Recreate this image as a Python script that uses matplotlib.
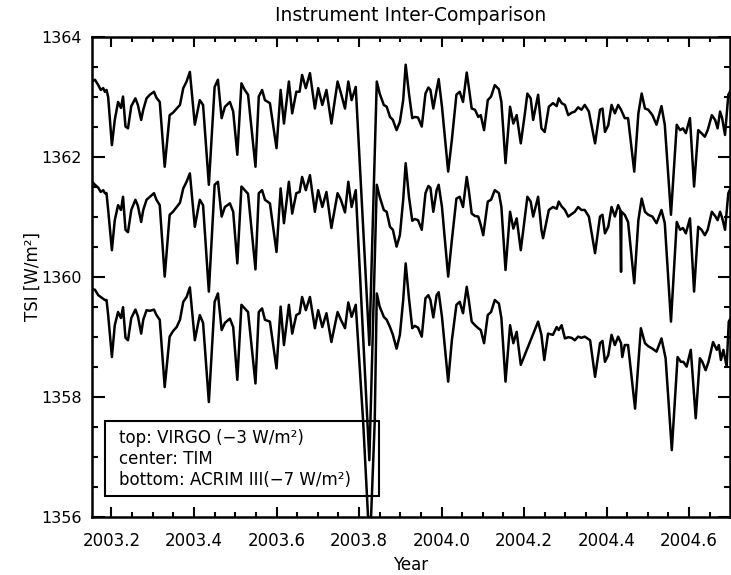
import numpy as np
import matplotlib.pyplot as plt
from matplotlib.patches import Rectangle
from matplotlib.ticker import MultipleLocator, FormatStrFormatter

# VIRGO (décalé de -3 W/m2)
virgo_annee = [
    2003.153, 2003.160, 2003.168, 2003.174, 2003.180, 2003.184, 2003.188, 2003.192, 2003.201, 2003.208,
    2003.216, 2003.223, 2003.228, 2003.234, 2003.240, 2003.248, 2003.258, 2003.264, 2003.272, 2003.277,
    2003.285, 2003.293, 2003.303, 2003.309, 2003.317, 2003.329, 2003.341, 2003.349, 2003.358, 2003.366,
    2003.374, 2003.382, 2003.390, 2003.402, 2003.414, 2003.422, 2003.436, 2003.450, 2003.458, 2003.467,
    2003.475, 2003.487, 2003.495, 2003.505, 2003.515, 2003.523, 2003.531, 2003.549, 2003.557, 2003.565,
    2003.572, 2003.584, 2003.600, 2003.610, 2003.618, 2003.630, 2003.638, 2003.648, 2003.656, 2003.662,
    2003.671, 2003.681, 2003.693, 2003.701, 2003.711, 2003.721, 2003.733, 2003.748, 2003.756, 2003.766,
    2003.774, 2003.782, 2003.792, 2003.825, 2003.843, 2003.850, 2003.860, 2003.867, 2003.875, 2003.882,
    2003.891, 2003.899, 2003.907, 2003.913, 2003.921, 2003.929, 2003.935, 2003.943, 2003.952, 2003.961,
    2003.968, 2003.973, 2003.980, 2003.988, 2003.993, 2004.001, 2004.016, 2004.025, 2004.036, 2004.044,
    2004.052, 2004.061, 2004.066, 2004.073, 2004.081, 2004.089, 2004.095, 2004.103, 2004.112, 2004.120,
    2004.129, 2004.139, 2004.145, 2004.155, 2004.166, 2004.174, 2004.182, 2004.192, 2004.202, 2004.208,
    2004.216, 2004.222, 2004.234, 2004.242, 2004.250, 2004.260, 2004.270, 2004.279, 2004.284, 2004.291,
    2004.299, 2004.307, 2004.315, 2004.323, 2004.331, 2004.339, 2004.347, 2004.357, 2004.372, 2004.384,
    2004.390, 2004.396, 2004.404, 2004.412, 2004.420, 2004.428, 2004.435, 2004.444, 2004.452, 2004.467,
    2004.477, 2004.485, 2004.493, 2004.501, 2004.511, 2004.521, 2004.533, 2004.541, 2004.556, 2004.570,
    2004.578, 2004.585, 2004.592, 2004.602, 2004.612, 2004.622, 2004.630, 2004.638, 2004.645, 2004.655,
    2004.663, 2004.669, 2004.675, 2004.680, 2004.687, 2004.695, 2004.701]
virgo_tsi = [
    1363.25, 1363.28, 1363.19, 1363.11, 1363.14, 1363.08, 1363.11, 1362.99, 1362.19, 1362.61,
    1362.91, 1362.81, 1363.00, 1362.50, 1362.47, 1362.84, 1362.97, 1362.86, 1362.61, 1362.78,
    1362.97, 1363.03, 1363.08, 1362.98, 1362.91, 1361.83, 1362.69, 1362.73, 1362.80, 1362.86,
    1363.14, 1363.25, 1363.41, 1362.53, 1362.94, 1362.86, 1361.53, 1363.16, 1363.28, 1362.64,
    1362.83, 1362.91, 1362.75, 1362.03, 1363.22, 1363.11, 1363.03, 1361.83, 1363.00, 1363.11,
    1362.94, 1362.89, 1362.14, 1363.11, 1362.55, 1363.25, 1362.72, 1363.08, 1363.08, 1363.36,
    1363.14, 1363.39, 1362.80, 1363.14, 1362.86, 1363.11, 1362.55, 1363.25, 1363.06, 1362.80,
    1363.25, 1362.94, 1363.16, 1358.86, 1363.25, 1363.05, 1362.86, 1362.83, 1362.66, 1362.61,
    1362.44, 1362.58, 1362.94, 1363.53, 1363.05, 1362.64, 1362.66, 1362.65, 1362.50, 1363.05,
    1363.15, 1363.11, 1362.80, 1363.11, 1363.29, 1362.83, 1361.75, 1362.28, 1363.03, 1363.08,
    1362.91, 1363.40, 1363.16, 1362.80, 1362.78, 1362.66, 1362.69, 1362.44, 1362.94, 1363.00,
    1363.19, 1363.12, 1362.91, 1361.89, 1362.83, 1362.55, 1362.69, 1362.22, 1362.72, 1363.05,
    1362.97, 1362.61, 1363.03, 1362.47, 1362.41, 1362.83, 1362.89, 1362.84, 1362.97, 1362.89,
    1362.86, 1362.69, 1362.73, 1362.75, 1362.82, 1362.78, 1362.86, 1362.75, 1362.22, 1362.78,
    1362.80, 1362.41, 1362.52, 1362.86, 1362.72, 1362.86, 1362.78, 1362.64, 1362.64, 1361.75,
    1362.72, 1363.05, 1362.80, 1362.78, 1362.69, 1362.53, 1362.84, 1362.53, 1361.03, 1362.53,
    1362.44, 1362.47, 1362.39, 1362.64, 1361.50, 1362.44, 1362.39, 1362.33, 1362.44, 1362.69,
    1362.61, 1362.47, 1362.75, 1362.64, 1362.36, 1363.03, 1363.11]

# TIM (sans décalage)
tim_annee = [
    2003.153, 2003.160, 2003.168, 2003.174, 2003.180, 2003.184, 2003.188, 2003.192, 2003.201, 2003.208,
    2003.216, 2003.223, 2003.228, 2003.234, 2003.240, 2003.248, 2003.258, 2003.264, 2003.272, 2003.277,
    2003.285, 2003.293, 2003.303, 2003.309, 2003.317, 2003.329, 2003.341, 2003.349, 2003.358, 2003.366,
    2003.374, 2003.382, 2003.390, 2003.402, 2003.414, 2003.422, 2003.436, 2003.450, 2003.458, 2003.467,
    2003.475, 2003.487, 2003.495, 2003.505, 2003.515, 2003.523, 2003.531, 2003.549, 2003.557, 2003.565,
    2003.572, 2003.584, 2003.600, 2003.610, 2003.618, 2003.630, 2003.638, 2003.648, 2003.656, 2003.662,
    2003.671, 2003.681, 2003.693, 2003.701, 2003.711, 2003.721, 2003.733, 2003.748, 2003.756, 2003.766,
    2003.774, 2003.782, 2003.792, 2003.825, 2003.843, 2003.850, 2003.860, 2003.867, 2003.875, 2003.882,
    2003.891, 2003.899, 2003.907, 2003.913, 2003.921, 2003.929, 2003.935, 2003.943, 2003.952, 2003.961,
    2003.968, 2003.973, 2003.980, 2003.988, 2003.993, 2004.001, 2004.016, 2004.025, 2004.036, 2004.044,
    2004.052, 2004.061, 2004.066, 2004.073, 2004.081, 2004.089, 2004.095, 2004.101, 2004.112, 2004.120,
    2004.129, 2004.139, 2004.145, 2004.155, 2004.166, 2004.174, 2004.182, 2004.192, 2004.202, 2004.208,
    2004.216, 2004.222, 2004.234, 2004.242, 2004.246, 2004.260, 2004.270, 2004.279, 2004.284, 2004.291,
    2004.299, 2004.307, 2004.315, 2004.323, 2004.331, 2004.339, 2004.347, 2004.357, 2004.372, 2004.384,
    2004.390, 2004.396, 2004.404, 2004.412, 2004.420, 2004.428, 2004.433, 2004.435, 2004.436, 2004.444,
    2004.452, 2004.467, 2004.477, 2004.485, 2004.493, 2004.501, 2004.511, 2004.521, 2004.533, 2004.541,
    2004.556, 2004.570, 2004.578, 2004.585, 2004.592, 2004.602, 2004.612, 2004.622, 2004.630, 2004.638,
    2004.645, 2004.655, 2004.663, 2004.669, 2004.675, 2004.680, 2004.687, 2004.695, 2004.701]
tim_tsi = [
    1361.58, 1361.53, 1361.48, 1361.41, 1361.44, 1361.39, 1361.39, 1361.11, 1360.44, 1360.94,
    1361.19, 1361.11, 1361.33, 1360.78, 1360.74, 1361.11, 1361.28, 1361.18, 1360.91, 1361.11,
    1361.28, 1361.33, 1361.39, 1361.28, 1361.19, 1360.00, 1361.03, 1361.08, 1361.16, 1361.23,
    1361.47, 1361.58, 1361.72, 1360.83, 1361.28, 1361.19, 1359.75, 1361.53, 1361.58, 1361.00,
    1361.16, 1361.22, 1361.08, 1360.22, 1361.50, 1361.44, 1361.38, 1360.12, 1361.39, 1361.44,
    1361.28, 1361.22, 1360.41, 1361.47, 1360.89, 1361.58, 1361.05, 1361.39, 1361.41, 1361.66,
    1361.44, 1361.69, 1361.08, 1361.44, 1361.16, 1361.41, 1360.81, 1361.39, 1361.28, 1361.07,
    1361.58, 1361.16, 1361.44, 1356.94, 1361.53, 1361.33, 1361.11, 1361.08, 1360.83, 1360.78,
    1360.50, 1360.69, 1361.28, 1361.89, 1361.33, 1360.93, 1360.96, 1360.94, 1360.78, 1361.39,
    1361.51, 1361.48, 1361.08, 1361.44, 1361.53, 1361.16, 1360.00, 1360.61, 1361.30, 1361.33,
    1361.16, 1361.66, 1361.44, 1361.05, 1361.01, 1361.00, 1360.86, 1360.69, 1361.25, 1361.28,
    1361.44, 1361.39, 1361.16, 1360.11, 1361.08, 1360.80, 1360.97, 1360.44, 1361.00, 1361.33,
    1361.25, 1361.00, 1361.33, 1360.78, 1360.64, 1361.11, 1361.16, 1361.13, 1361.25, 1361.17,
    1361.11, 1361.00, 1361.04, 1361.08, 1361.16, 1361.11, 1361.11, 1361.00, 1360.39, 1361.00,
    1361.03, 1360.72, 1360.83, 1361.16, 1361.00, 1361.19, 1361.11, 1360.08, 1361.08, 1361.03,
    1360.91, 1359.89, 1360.94, 1361.30, 1361.08, 1361.03, 1361.00, 1360.89, 1361.11, 1360.89,
    1359.25, 1360.91, 1360.78, 1360.81, 1360.72, 1360.97, 1359.75, 1360.83, 1360.78, 1360.69,
    1360.78, 1361.08, 1361.01, 1360.94, 1361.08, 1360.98, 1360.78, 1361.39, 1361.48]

# ACRIM III (décalé de -7 W/m2), lacune vers 2004.2
acrim_annee = [
    2003.153, 2003.160, 2003.168, 2003.174, 2003.180, 2003.184, 2003.188, 2003.192, 2003.201, 2003.208,
    2003.216, 2003.223, 2003.228, 2003.234, 2003.240, 2003.248, 2003.258, 2003.264, 2003.272, 2003.277,
    2003.285, 2003.293, 2003.303, 2003.309, 2003.317, 2003.329, 2003.341, 2003.349, 2003.358, 2003.366,
    2003.374, 2003.382, 2003.390, 2003.402, 2003.414, 2003.422, 2003.436, 2003.450, 2003.458, 2003.467,
    2003.475, 2003.487, 2003.495, 2003.505, 2003.515, 2003.523, 2003.531, 2003.549, 2003.557, 2003.565,
    2003.572, 2003.584, 2003.600, 2003.610, 2003.618, 2003.630, 2003.638, 2003.648, 2003.656, 2003.662,
    2003.671, 2003.681, 2003.693, 2003.701, 2003.711, 2003.721, 2003.733, 2003.748, 2003.756, 2003.766,
    2003.774, 2003.782, 2003.792, 2003.810, 2003.826, 2003.838, 2003.843, 2003.850, 2003.860, 2003.867,
    2003.875, 2003.882, 2003.891, 2003.899, 2003.907, 2003.913, 2003.921, 2003.929, 2003.935, 2003.943,
    2003.952, 2003.961, 2003.968, 2003.973, 2003.980, 2003.988, 2003.993, 2004.001, 2004.016, 2004.025,
    2004.036, 2004.044, 2004.052, 2004.061, 2004.066, 2004.073, 2004.081, 2004.089, 2004.095, 2004.103,
    2004.112, 2004.120, 2004.129, 2004.139, 2004.145, 2004.155, 2004.166, 2004.174, 2004.182, 2004.192,
    2004.234, 2004.242, 2004.249, 2004.258, 2004.270, 2004.279, 2004.284, 2004.291, 2004.299, 2004.307,
    2004.315, 2004.323, 2004.331, 2004.339, 2004.347, 2004.360, 2004.372, 2004.384, 2004.390, 2004.396,
    2004.404, 2004.412, 2004.420, 2004.428, 2004.435, 2004.438, 2004.444, 2004.452, 2004.469, 2004.483,
    2004.493, 2004.501, 2004.511, 2004.521, 2004.533, 2004.543, 2004.558, 2004.572, 2004.580, 2004.586,
    2004.594, 2004.604, 2004.616, 2004.626, 2004.632, 2004.640, 2004.647, 2004.658, 2004.667, 2004.672,
    2004.677, 2004.683, 2004.691, 2004.696, 2004.701]
acrim_tsi = [
    1359.80, 1359.78, 1359.69, 1359.66, 1359.63, 1359.61, 1359.61, 1359.36, 1358.66, 1359.19,
    1359.41, 1359.31, 1359.49, 1358.98, 1358.94, 1359.31, 1359.45, 1359.34, 1359.05, 1359.28,
    1359.44, 1359.43, 1359.45, 1359.36, 1359.28, 1358.16, 1359.00, 1359.09, 1359.16, 1359.28,
    1359.58, 1359.66, 1359.82, 1358.94, 1359.36, 1359.23, 1357.91, 1359.58, 1359.72, 1359.11,
    1359.23, 1359.30, 1359.16, 1358.28, 1359.53, 1359.47, 1359.41, 1358.22, 1359.41, 1359.47,
    1359.28, 1359.25, 1358.47, 1359.50, 1358.86, 1359.53, 1359.05, 1359.36, 1359.39, 1359.66,
    1359.44, 1359.66, 1359.14, 1359.44, 1359.16, 1359.39, 1358.91, 1359.41, 1359.28, 1359.14,
    1359.57, 1359.33, 1359.53, 1357.58, 1355.44, 1357.58, 1359.72, 1359.50, 1359.33, 1359.28,
    1359.16, 1359.03, 1358.80, 1359.03, 1359.61, 1360.22, 1359.64, 1359.14, 1359.18, 1359.15,
    1359.00, 1359.64, 1359.69, 1359.61, 1359.32, 1359.69, 1359.74, 1359.33, 1358.25, 1358.94,
    1359.53, 1359.58, 1359.39, 1359.83, 1359.61, 1359.25, 1359.19, 1359.14, 1359.11, 1358.89,
    1359.36, 1359.41, 1359.61, 1359.55, 1359.31, 1358.25, 1359.19, 1358.89, 1359.08, 1358.53,
    1359.25, 1359.03, 1358.61, 1359.05, 1359.03, 1359.16, 1359.11, 1359.19, 1358.97, 1358.99,
    1358.98, 1358.94, 1359.00, 1358.98, 1359.00, 1358.94, 1358.33, 1358.89, 1358.93, 1358.58,
    1358.69, 1359.03, 1358.86, 1359.00, 1358.89, 1358.66, 1358.86, 1358.86, 1357.80, 1359.14,
    1358.89, 1358.84, 1358.80, 1358.75, 1358.97, 1358.64, 1357.11, 1358.66, 1358.58, 1358.58,
    1358.50, 1358.78, 1357.64, 1358.64, 1358.58, 1358.44, 1358.58, 1358.91, 1358.78, 1358.86,
    1358.61, 1358.78, 1358.50, 1359.25, 1359.31]

legende = ["top: VIRGO (\u22123 W/m\u00b2)",
           "center: TIM",
           "bottom: ACRIM III(\u22127 W/m\u00b2)"]

fig = plt.figure(figsize=(7.31, 5.75), dpi=100)
ax = fig.add_axes([0.1254, 0.1014, 0.8732, 0.8351])

# Tracé des trois séries
for annee, tsi in [(virgo_annee, virgo_tsi), (tim_annee, tim_tsi), (acrim_annee, acrim_tsi)]:
    ax.plot(annee, tsi, color='black', lw=1.8, solid_joinstyle='round')

ax.set_xlim(2003.152, 2004.699)
ax.set_ylim(1356, 1364)

# Graduations style IDL
ax.xaxis.set_major_locator(MultipleLocator(0.2))
ax.xaxis.set_minor_locator(MultipleLocator(0.05))
ax.yaxis.set_major_locator(MultipleLocator(2))
ax.yaxis.set_minor_locator(MultipleLocator(0.5))
ax.xaxis.set_major_formatter(FormatStrFormatter('%.1f'))
ax.yaxis.set_major_formatter(FormatStrFormatter('%d'))
ax.tick_params(which='both', direction='in', top=True, right=True, width=1.5)
ax.xaxis.set_tick_params(which='major', length=7, pad=11, labelsize=12)
ax.xaxis.set_tick_params(which='minor', length=3.5)
ax.yaxis.set_tick_params(which='major', length=9, pad=7, labelsize=11.5)
ax.yaxis.set_tick_params(which='minor', length=4.6)
for s in ax.spines.values():
    s.set_linewidth(1.8)

ax.set_title("Instrument Inter-Comparison", fontsize=13.5, pad=11)
ax.set_xlabel("Year", fontsize=12, labelpad=4)
ax.set_ylabel("TSI [W/m\u00b2]", fontsize=12, labelpad=0)

# Boîte de légende
ax.add_patch(Rectangle((0.0208, 0.0431), 0.4298, 0.1562, transform=ax.transAxes,
                       fill=False, ec='black', lw=1.5))
for y, txt in zip([0.1633, 0.1195, 0.0764], legende):
    ax.text(0.0432, y, txt, transform=ax.transAxes, fontsize=12, va='center', ha='left')

fig.savefig("out.png", dpi=100)
